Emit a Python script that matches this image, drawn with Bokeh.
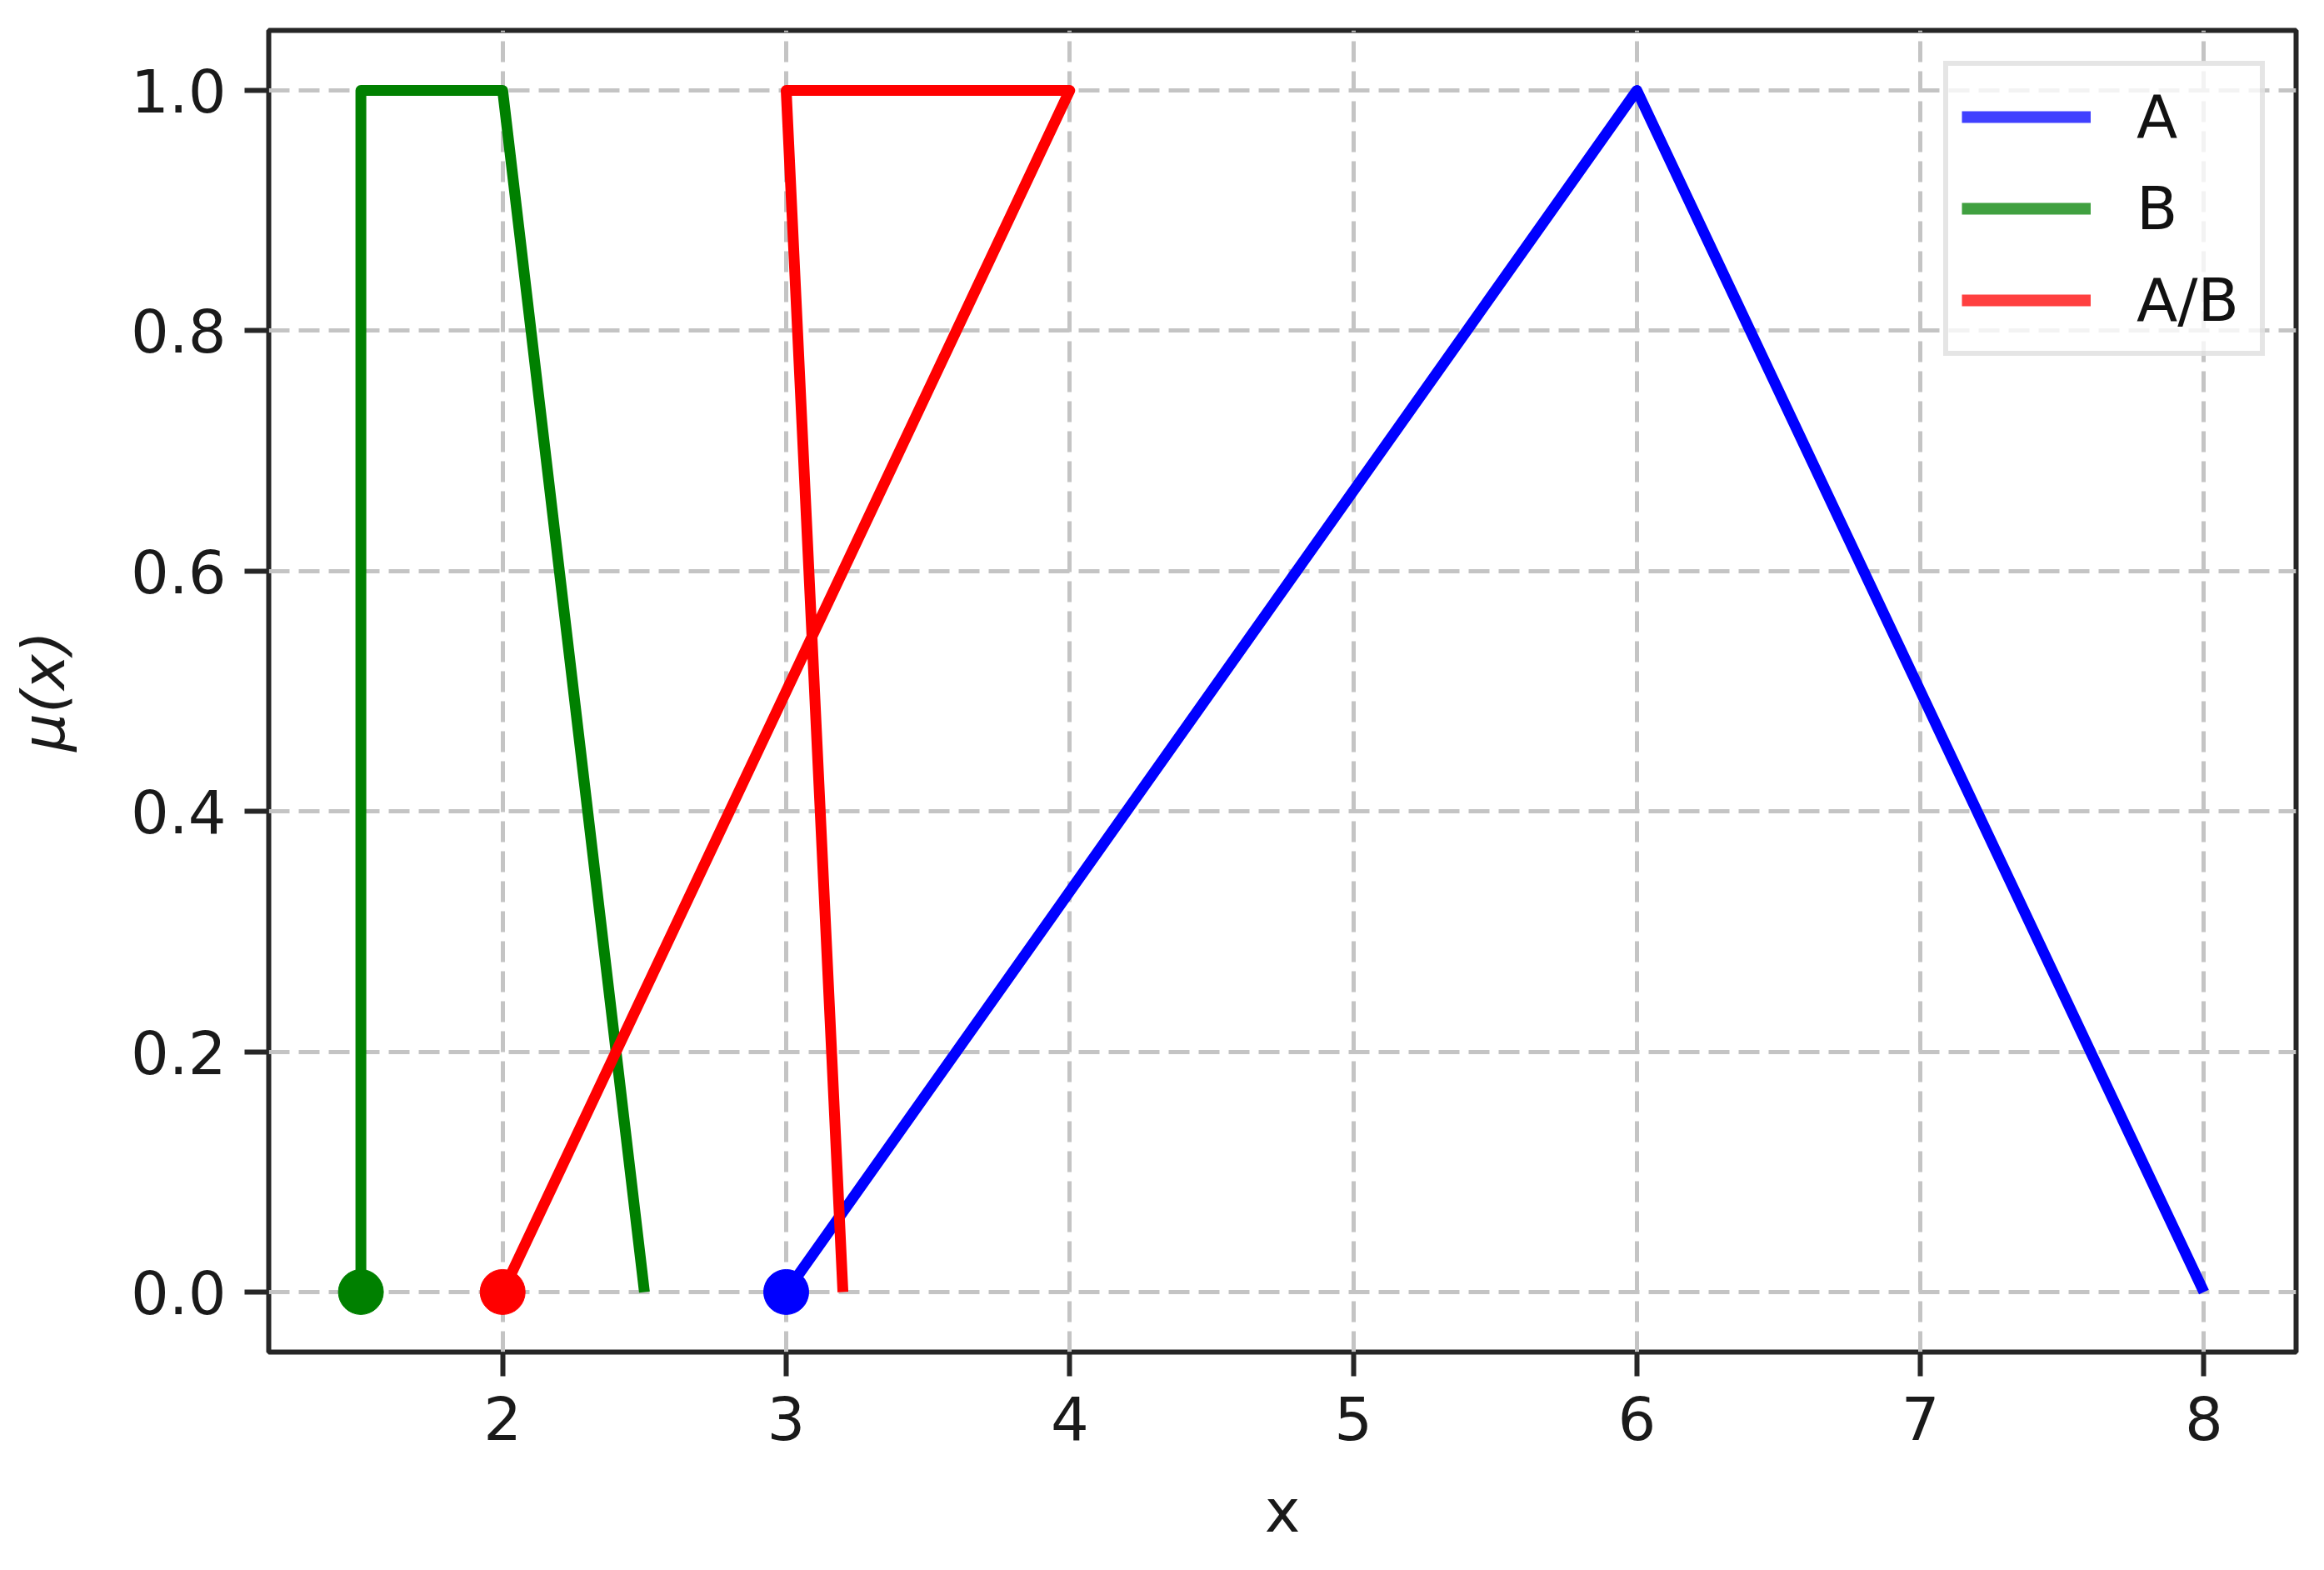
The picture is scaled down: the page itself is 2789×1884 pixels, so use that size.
from bokeh.plotting import figure
from bokeh.models import Range1d, FixedTicker, NumeralTickFormatter, Legend, LegendItem
from bokeh.embed import file_html
from bokeh.resources import INLINE

# ---- data ----
a_x = [3, 6, 8]
a_mu = [0, 1, 0]
b_x = [1.5, 1.5, 2, 2.5]
b_mu = [0, 1, 1, 0]
ab_x = [2, 4, 3, 3.2]
ab_mu = [0, 1, 1, 0]
series_names = ["A", "B", "A/B"]
series_colors = ["#0000ff", "#008000", "#ff0000"]
x_ticks = [2, 3, 4, 5, 6, 7, 8]
y_ticks = [0.0, 0.2, 0.4, 0.6, 0.8, 1.0]

FONT = "DejaVu Sans"
FS = "72px"
DARK = "#262626"

W, H = 2785, 1880
p = figure(width=W, height=H,
           x_range=Range1d(1.175, 8.325), y_range=Range1d(-0.05, 1.05),
           output_backend="svg", toolbar_location=None,
           min_border_left=322, min_border_right=30,
           min_border_top=36, min_border_bottom=258)
p.title.text = ""
p.background_fill_color = "white"
p.border_fill_color = "white"
p.outline_line_color = DARK
p.outline_line_width = 6

# axes
p.xaxis.ticker = FixedTicker(ticks=x_ticks)
p.yaxis.ticker = FixedTicker(ticks=y_ticks)
p.yaxis.formatter = NumeralTickFormatter(format="0.0")
p.xaxis.axis_label = "x"
p.yaxis.axis_label = "μ(x)"
p.yaxis.axis_label_text_font_style = "italic"
p.xaxis.axis_label_text_font_style = "normal"
for ax in (p.xaxis, p.yaxis):
    ax.axis_line_color = None
    ax.major_tick_out = 29
    ax.major_tick_in = 0
    ax.major_tick_line_width = 6
    ax.major_tick_line_color = DARK
    ax.minor_tick_line_color = None
    ax.major_label_text_font = FONT
    ax.major_label_text_font_size = FS
    ax.major_label_text_color = "#1a1a1a"
    ax.axis_label_text_font = FONT
    ax.axis_label_text_font_size = FS
    ax.axis_label_text_color = "#1a1a1a"
p.xaxis.major_label_standoff = 23
p.yaxis.major_label_standoff = 22
p.xaxis.axis_label_standoff = 40
p.yaxis.axis_label_standoff = 60

# grid
for g in (p.xgrid, p.ygrid):
    g.grid_line_color = "#c4c4c4"
    g.grid_line_width = 5
    g.grid_line_dash = "25 11"

# series
xs = [a_x, b_x, ab_x]
ys = [a_mu, b_mu, ab_mu]
for x, y, c in zip(xs, ys, series_colors):
    p.line(x=x, y=y, line_color=c, line_width=13, line_join="round")
    p.scatter(x=[x[0]], y=[y[0]], size=54, fill_color=c, line_color=c, line_width=1)

# legend glyph renderers (single-point lines draw nothing on the plot)
items = []
for name, c, x, y in zip(series_names, series_colors, xs, ys):
    r = p.line(x=[x[0]], y=[y[0]], line_color=c, line_alpha=0.75, line_width=14)
    items.append(LegendItem(label=name, renderers=[r]))

legend = Legend(items=items, location="top_right")
legend.label_text_font = FONT
legend.label_text_font_size = FS
legend.label_text_color = "#111111"
legend.glyph_width = 155
legend.glyph_height = 90
legend.label_height = 90
legend.label_width = 132
legend.label_standoff = 55
legend.spacing = 20
legend.padding = 16
legend.margin = 37
legend.border_line_color = "#cccccc"
legend.border_line_width = 6
legend.background_fill_color = "white"
legend.background_fill_alpha = 0.8
p.add_layout(legend)

open("out.html", "w").write(file_html(p, INLINE))
